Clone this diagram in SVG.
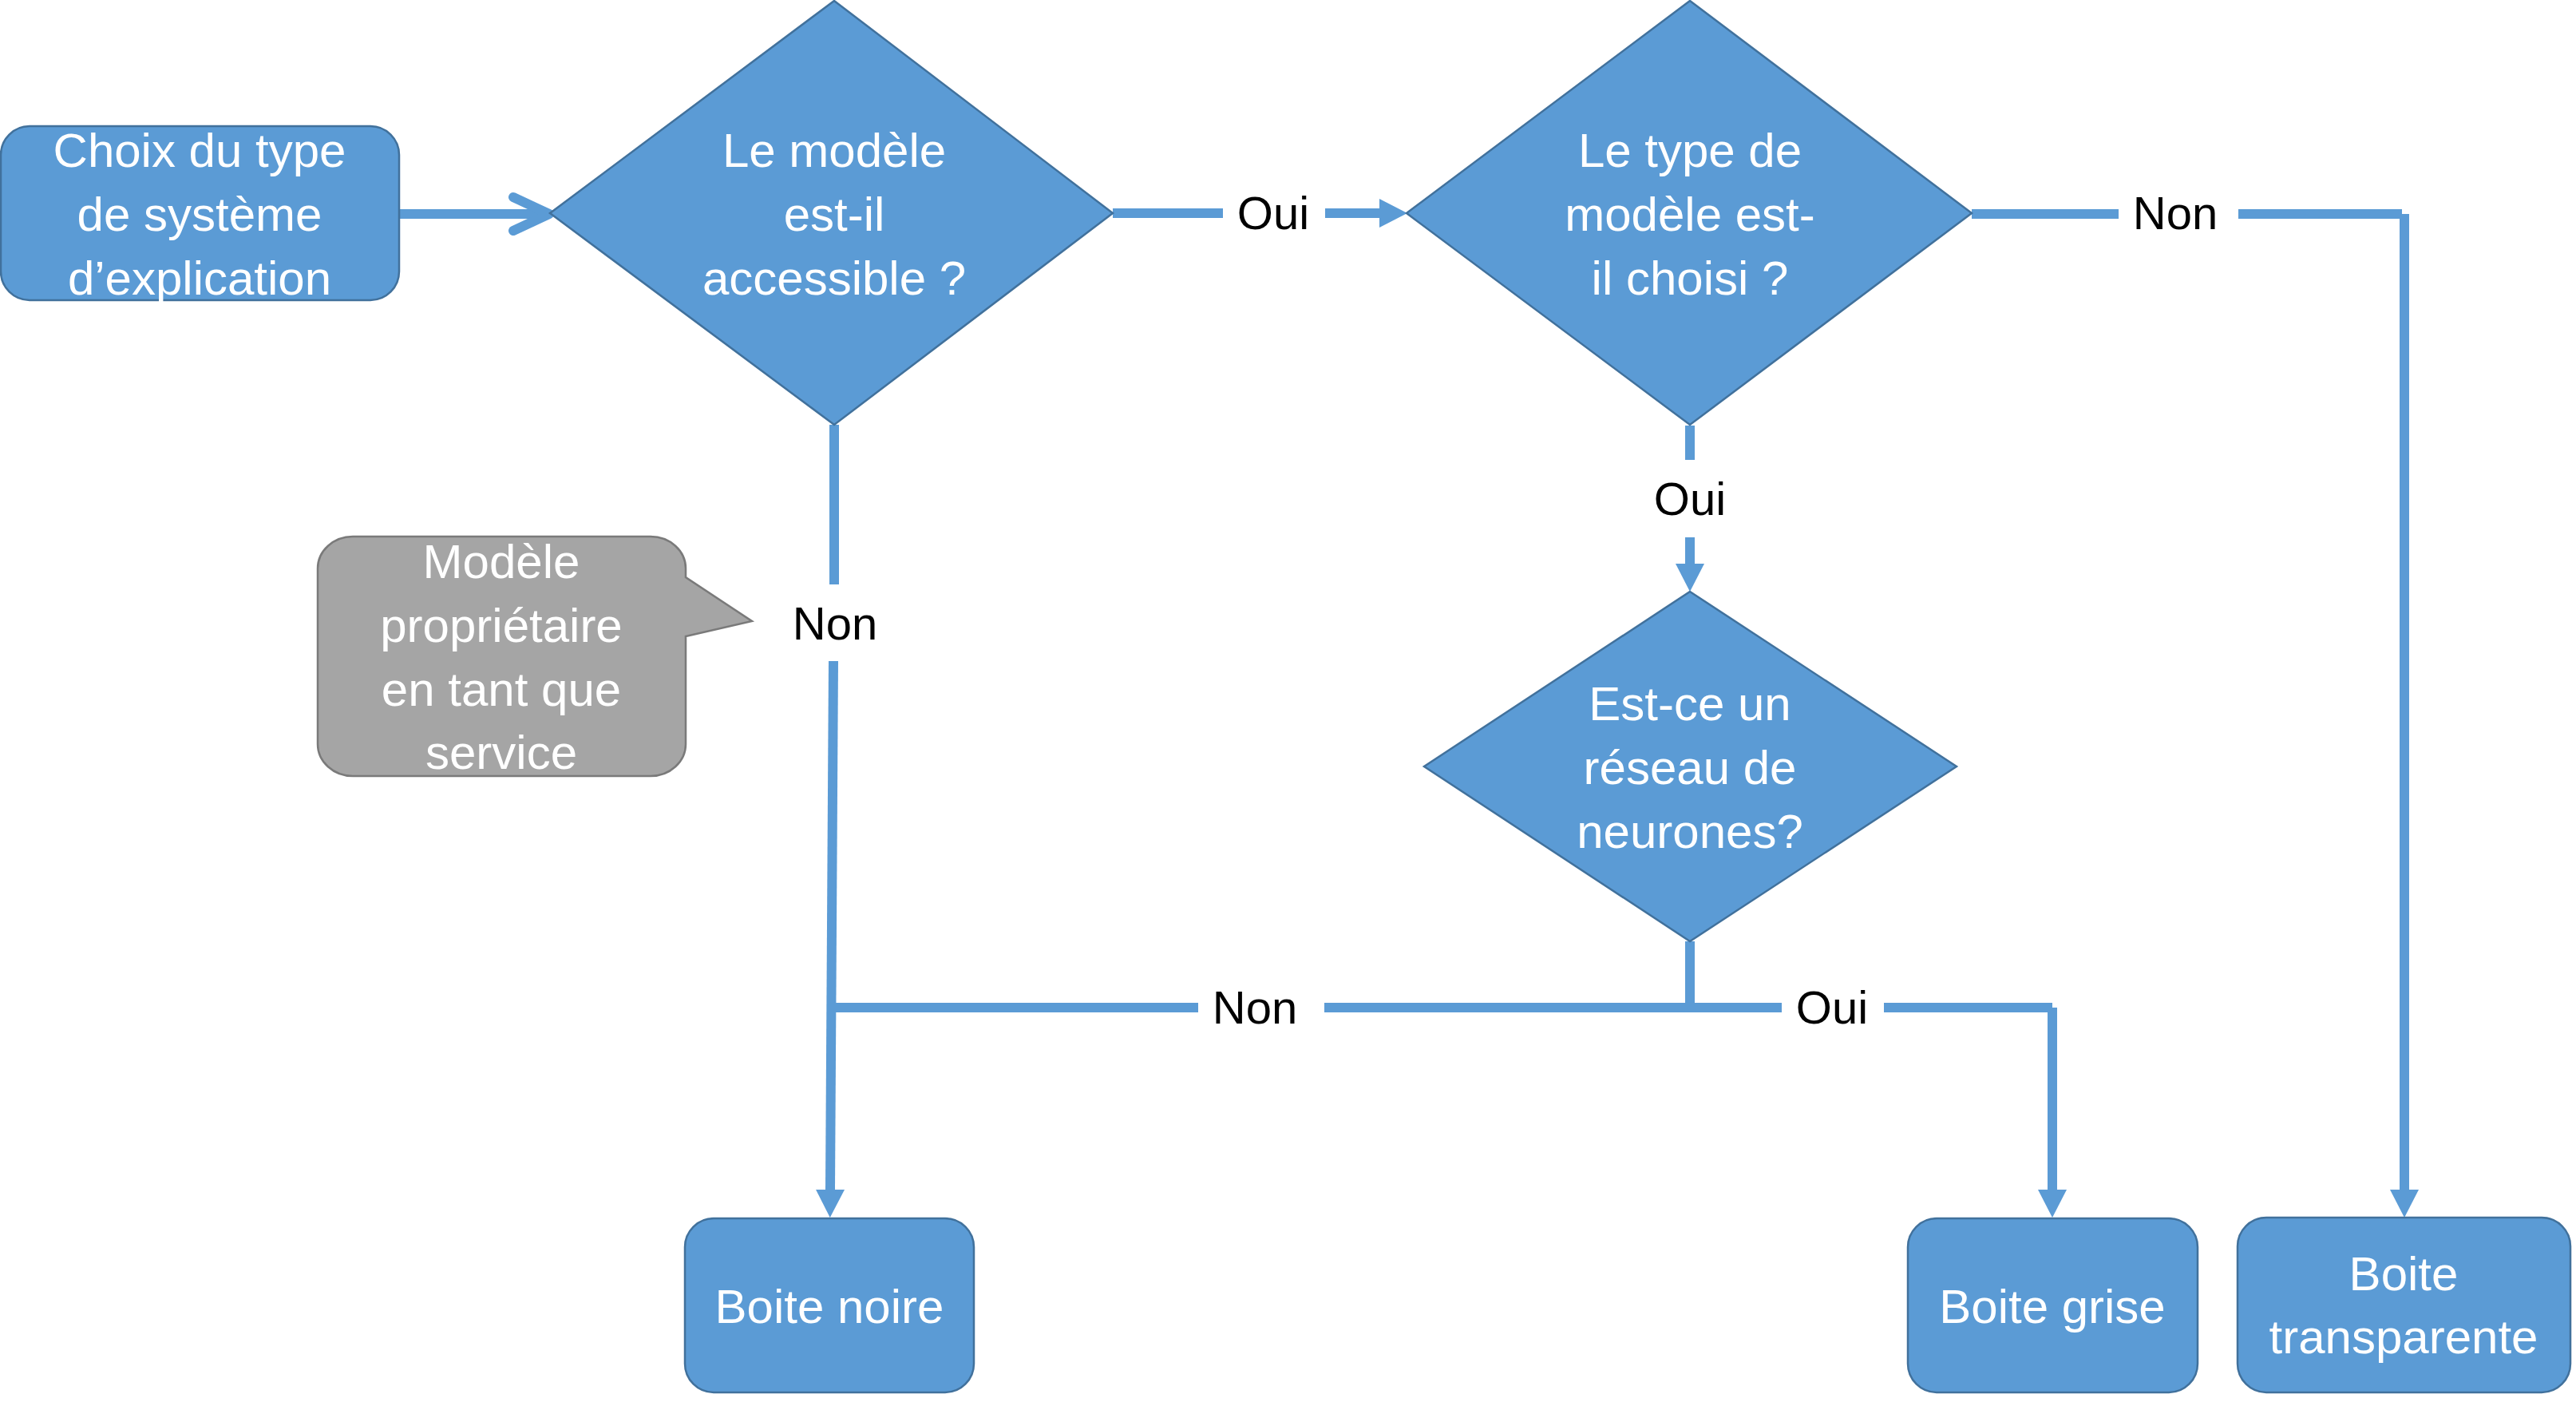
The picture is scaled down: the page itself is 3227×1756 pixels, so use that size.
<svg xmlns="http://www.w3.org/2000/svg" width="3227" height="1756" viewBox="0 0 3227 1756">
<style>
.node{fill:#5B9BD5;stroke:#41719C;stroke-width:2.5}
.callout{fill:#A5A5A5;stroke:#7A7A7A;stroke-width:2.5}
.nt{font-family:"Liberation Sans",Arial,sans-serif;font-size:60px;fill:#FFFFFF;text-anchor:middle}
.lbl{font-family:"Liberation Sans",Arial,sans-serif;font-size:58px;fill:#000000;text-anchor:middle}
.con{fill:none;stroke:#5B9BD5;stroke-width:12}
.chev{fill:none;stroke:#5B9BD5;stroke-width:12;stroke-linecap:round;stroke-linejoin:round}
</style>
<defs>
<marker id="tri" markerUnits="userSpaceOnUse" markerWidth="36" markerHeight="36" viewBox="0 0 36 36" refX="0" refY="18" orient="auto">
<path d="M0,0 L35,18 L0,36 Z" fill="#5B9BD5"/>
</marker>
</defs>
<rect width="3227" height="1756" fill="#FFFFFF"/>

<g id="connectors">
<line class="con" x1="500" y1="268" x2="682" y2="268"/>
<polyline class="chev" points="643,247 688,268 643,289"/>
<line class="con" x1="1394" y1="267" x2="1532" y2="267"/>
<line class="con" x1="1660" y1="267" x2="1728" y2="267" marker-end="url(#tri)"/>
<line class="con" x1="2470" y1="268" x2="2654" y2="268"/>
<line class="con" x1="2804" y1="268" x2="3009" y2="268"/>
<line class="con" x1="3012" y1="268" x2="3012" y2="1490" marker-end="url(#tri)"/>
<line class="con" x1="2117" y1="533" x2="2117" y2="576"/>
<line class="con" x1="2117" y1="673" x2="2117" y2="706" marker-end="url(#tri)"/>
<line class="con" x1="1045" y1="532" x2="1045" y2="732"/>
<line class="con" x1="1044" y1="828" x2="1040" y2="1490" marker-end="url(#tri)"/>
<line class="con" x1="1042" y1="1262" x2="1501" y2="1262"/>
<line class="con" x1="1659" y1="1262" x2="2232" y2="1262"/>
<line class="con" x1="2117" y1="1179" x2="2117" y2="1262"/>
<line class="con" x1="2360" y1="1262" x2="2571" y2="1262"/>
<line class="con" x1="2571" y1="1262" x2="2571" y2="1490" marker-end="url(#tri)"/>
</g>

<g id="labels">
<text class="lbl" x="1595" y="287">Oui</text>
<text class="lbl" x="2725" y="287">Non</text>
<text class="lbl" x="2117" y="645">Oui</text>
<text class="lbl" x="1046" y="801">Non</text>
<text class="lbl" x="1572" y="1282">Non</text>
<text class="lbl" x="2295" y="1282">Oui</text>
</g>

<g id="start">
<rect class="node" x="1" y="158" width="499" height="218" rx="36" ry="36"/>
<text class="nt" x="250" y="209">Choix du type</text>
<text class="nt" x="250" y="289">de système</text>
<text class="nt" x="250" y="369">d’explication</text>
</g>

<g id="q1">
<polygon class="node" points="1045,1 1394,267 1045,532 689,267"/>
<text class="nt" x="1045" y="209">Le modèle</text>
<text class="nt" x="1045" y="289">est-il</text>
<text class="nt" x="1045" y="369">accessible ?</text>
</g>

<g id="q2">
<polygon class="node" points="2117,1 2470,267 2117,532 1762,267"/>
<text class="nt" x="2117" y="209">Le type de</text>
<text class="nt" x="2117" y="289">modèle est-</text>
<text class="nt" x="2117" y="369">il choisi ?</text>
</g>

<g id="q3">
<polygon class="node" points="2117,741 2451,960 2117,1179 1784,960"/>
<text class="nt" x="2117" y="902">Est-ce un</text>
<text class="nt" x="2117" y="982">réseau de</text>
<text class="nt" x="2117" y="1062">neurones?</text>
</g>

<g id="note">
<path class="callout" d="M442,672 H815 A44,40 0 0 1 859,712 V723 L942,778 L859,797 V932 A44,40 0 0 1 815,972 H442 A44,40 0 0 1 398,932 V712 A44,40 0 0 1 442,672 Z"/>
<text class="nt" x="628" y="724">Modèle</text>
<text class="nt" x="628" y="804">propriétaire</text>
<text class="nt" x="628" y="884">en tant que</text>
<text class="nt" x="628" y="963">service</text>
</g>

<g id="boite-noire">
<rect class="node" x="858" y="1526" width="362" height="218" rx="36" ry="36"/>
<text class="nt" x="1039" y="1657">Boite noire</text>
</g>

<g id="boite-grise">
<rect class="node" x="2390" y="1526" width="363" height="218" rx="36" ry="36"/>
<text class="nt" x="2571" y="1657">Boite grise</text>
</g>

<g id="boite-transparente">
<rect class="node" x="2803" y="1525" width="417" height="219" rx="36" ry="36"/>
<text class="nt" x="3011" y="1616">Boite</text>
<text class="nt" x="3011" y="1695">transparente</text>
</g>
</svg>
